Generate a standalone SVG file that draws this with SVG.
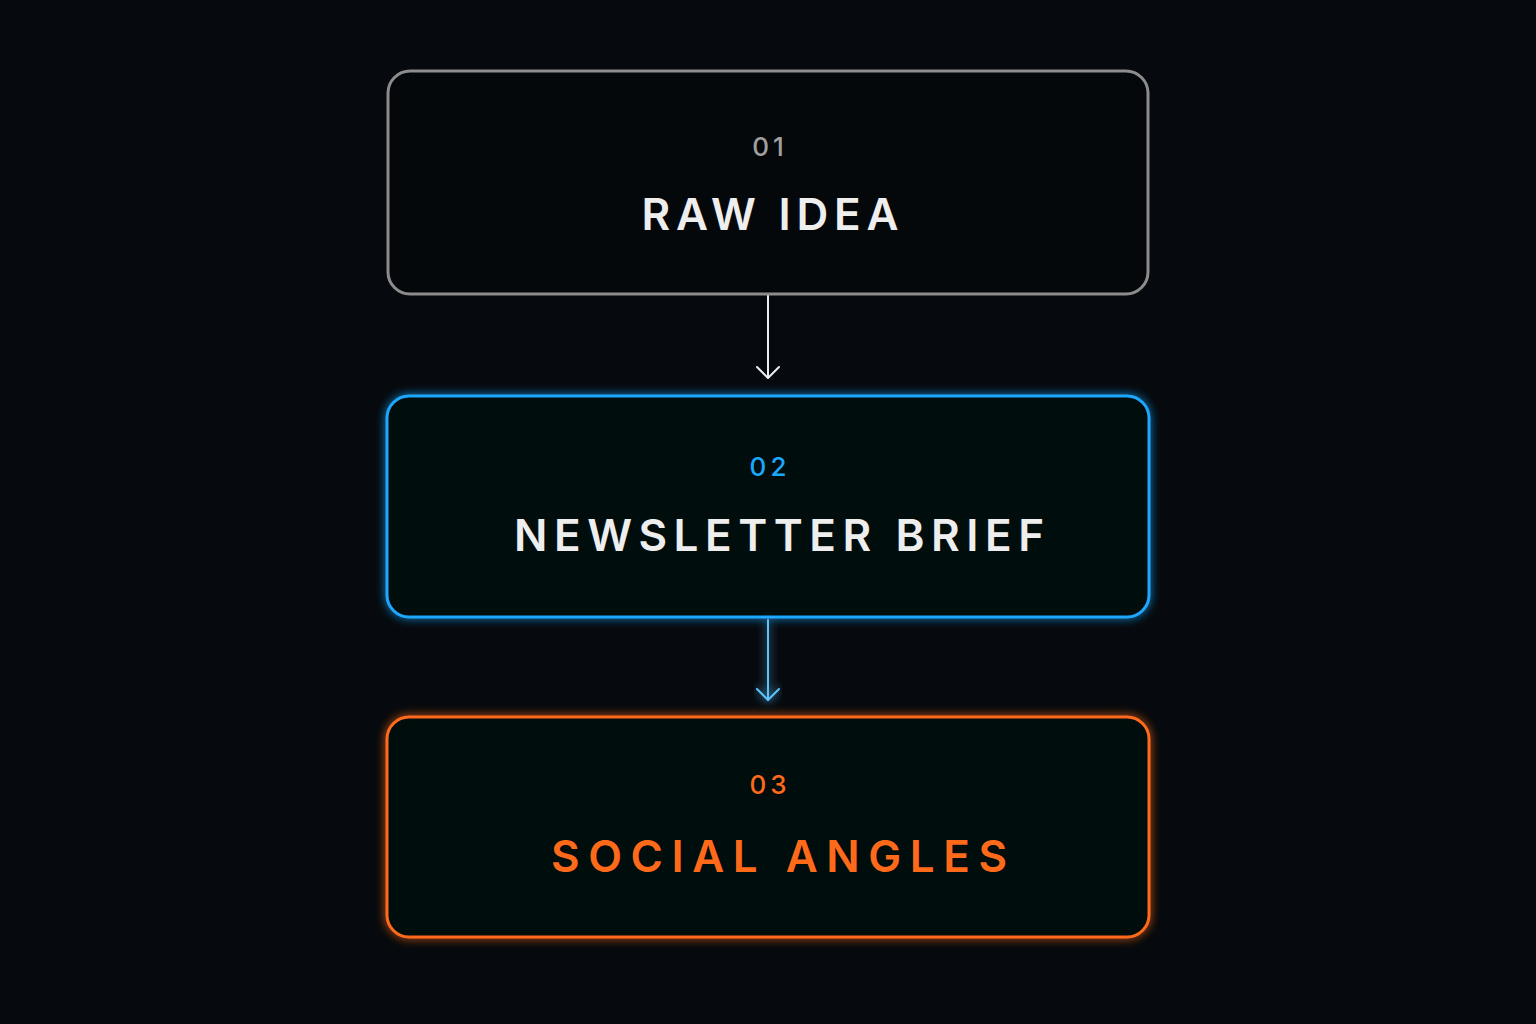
<svg xmlns="http://www.w3.org/2000/svg" width="1536" height="1024" viewBox="0 0 1536 1024">
<defs>
<style>
.box{fill:#05080b;stroke-width:3}
.num{font-family:Inter,"DejaVu Sans",sans-serif;font-size:26px;font-weight:500;letter-spacing:4px;text-anchor:middle}
.title{font-family:Inter,"DejaVu Sans",sans-serif;font-size:44px;font-weight:600;text-anchor:middle}
.conn{fill:none;stroke-width:2;stroke-linecap:round;stroke-linejoin:round}
</style>
<filter id="glow" x="-10%" y="-20%" width="120%" height="140%">
<feGaussianBlur in="SourceGraphic" stdDeviation="5" result="b"/>
<feMerge><feMergeNode in="b"/><feMergeNode in="SourceGraphic"/></feMerge>
</filter>
</defs>
<rect width="1536" height="1024" fill="#06090d"/>
<g id="node1">
<rect class="box" x="388" y="71" width="760" height="223" rx="22" stroke="#8c8c8c"/>
<text class="num" x="770" y="156" fill="#a0a0a0">01</text>
<text class="title" x="770" y="230" fill="#eeeeee" textLength="257" lengthAdjust="spacing">RAW IDEA</text>
</g>
<g id="node2">
<rect class="box" x="387" y="396" width="762" height="221" rx="22" stroke="#1aa8ff" filter="url(#glow)"/>
<text class="num" x="770" y="476" fill="#1aa8ff">02</text>
<text class="title" x="779" y="551" fill="#eeeeee" textLength="530" lengthAdjust="spacing">NEWSLETTER BRIEF</text>
</g>
<g id="node3">
<rect class="box" x="387" y="717" width="762" height="220" rx="22" stroke="#ff6a1a" filter="url(#glow)"/>
<text class="num" x="770" y="794" fill="#ff6a1a">03</text>
<text class="title" x="779" y="872" fill="#ff6a1a" textLength="456" lengthAdjust="spacing">SOCIAL ANGLES</text>
</g>
<g id="connectors">
<g stroke="#e8eef5" class="conn">
<path d="M768 296 V378"/><path d="M757 367 L768 378 L779 367"/>
</g>
<g stroke="#5cc3ff" class="conn" filter="url(#glow)">
<path d="M768 620 V700"/><path d="M757 689 L768 700 L779 689"/>
</g>
</g>
</svg>
